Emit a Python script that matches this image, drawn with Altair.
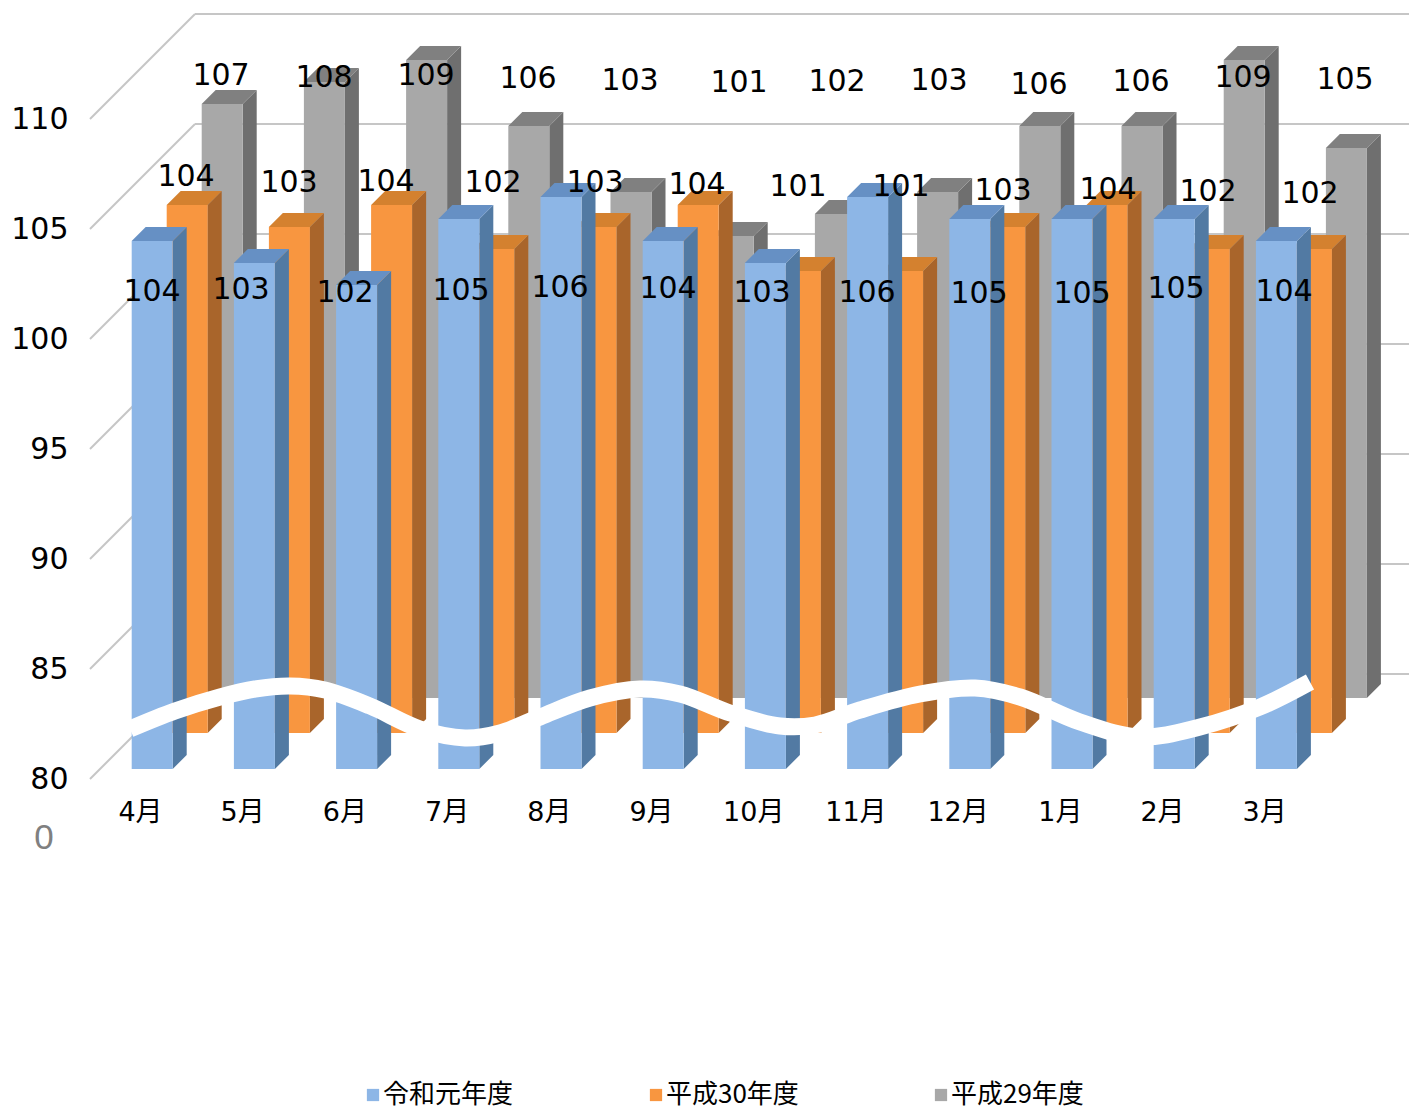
import json
import altair as alt
import pandas as pd

# ---- chart data ----
months = ["4月", "5月", "6月", "7月", "8月", "9月", "10月", "11月", "12月", "1月", "2月", "3月"]
series_names = ["令和元年度", "平成30年度", "平成29年度"]
reiwa1 = [104, 103, 102, 105, 106, 104, 103, 106, 105, 105, 105, 104]
heisei30 = [104, 103, 104, 102, 103, 104, 101, 101, 103, 104, 102, 102]
heisei29 = [107, 108, 109, 106, 103, 101, 102, 103, 106, 106, 109, 105]
axis_ticks = [80, 85, 90, 95, 100, 105, 110]

# ---- picture geometry (image pixels) ----
LEFT, TOP = 74, 8
W, H = 1335, 1102
PITCH = 102.2
UNIT = 22.0
Y80 = 779.0
MONTH0 = 140.0
BAR_W = 41.0
DX, DY = 14.0, 14.0
WALL_DX, WALL_DY = 105.0, 105.0
NUM_FONT = "DejaVu Sans ExtraLight, DejaVu Sans"
TXT_FONT = "DejaVu Sans ExtraLight, DejaVu Sans, Noto Sans CJK JP"


def sx(px):
    return (px - MONTH0) / PITCH


def vy(py):
    return 80 + (Y80 - py) / UNIT


x_scale = alt.Scale(domain=[sx(LEFT), sx(LEFT + W)], nice=False, zero=False)
y_scale = alt.Scale(domain=[vy(TOP + H), vy(TOP)], nice=False, zero=False)
color_scale = alt.Scale(domain=series_names, range=["#8DB6E6", "#F89640", "#A8A8A8"])

x_axis = alt.Axis(
    values=list(range(12)),
    labelExpr=json.dumps(months, ensure_ascii=False) + "[datum.value]",
    title=None, grid=False, ticks=False, domain=False, orient="bottom",
    offset=-(TOP + H - 799), labelPadding=0,
    labelFont=TXT_FONT, labelFontSize=27, labelColor="#000000",
    labelBaseline="top", labelAngle=0)
y_axis = alt.Axis(
    values=axis_ticks, title=None, grid=False, ticks=False, domain=False,
    labelPadding=6, labelFont=NUM_FONT, labelFontSize=30,
    labelColor="#000000", labelBaseline="middle")

# per series: values, left edge of first bar, baseline, side and top colours
series = [
    (series_names[2], heisei29, 201.7, 698.0, "#6F6F6F", "#808080"),
    (series_names[1], heisei30, 166.7, 733.0, "#A9652B", "#D4812F"),
    (series_names[0], reiwa1, 131.7, 769.0, "#527AA3", "#6690C4"),
]

# value-label positions, image pixels
label_pos = {
    series_names[0]: ([152, 241, 345, 461, 560, 668, 762, 867, 979, 1082, 1176, 1284],
                      [292, 290, 293, 291, 288, 289, 293, 293, 294, 294, 289, 292]),
    series_names[1]: ([186, 289, 386, 493, 595, 697, 798, 901, 1003, 1108, 1208, 1310],
                      [177, 183, 182, 183, 183, 185, 187, 187, 191, 190, 192, 194]),
    series_names[2]: ([221, 324, 426, 528, 630, 739, 837, 939, 1039, 1141, 1243, 1345],
                      [76, 78, 76, 79, 81, 83, 82, 81, 85, 82, 78, 80]),
}

# axis-break wave, image pixels
wave_px = [130, 175, 220, 255, 290, 325, 370, 420, 465, 500, 540, 590, 640, 680, 730, 780,
           815, 860, 920, 975, 1020, 1080, 1140, 1200, 1260, 1310]
wave_py = [729, 711, 697, 689, 686, 690, 706, 729, 738, 733, 717, 698, 689, 694, 713, 726,
           725, 710, 694, 688, 697, 722, 737, 727, 707, 682]

X = alt.X("x:Q", scale=x_scale, axis=x_axis)
Y = alt.Y("y:Q", scale=y_scale, axis=y_axis)

layers = []

# back wall and left wall gridlines
walls = pd.DataFrame({
    "v": axis_ticks,
    "x": [sx(90)] * 7,
    "xb": [sx(90 + WALL_DX)] * 7,
    "xe": [sx(LEFT + W)] * 7,
})
walls["y"] = walls["v"]
walls["yb"] = walls["v"] + WALL_DY / UNIT
grid = dict(color="#C6C6C6", strokeWidth=2)
layers.append(alt.Chart(walls).mark_rule(**grid).encode(
    x=alt.X("xb:Q", scale=x_scale, axis=x_axis),
    x2="xe:Q",
    y=alt.Y("yb:Q", scale=y_scale, axis=y_axis),
))
layers.append(alt.Chart(walls).mark_rule(**grid).encode(
    x=X, x2="xb:Q", y=Y, y2="yb:Q",
))

# bars, back series first
for name, values, x0, base_py, side_col, top_col in series:
    shift = (Y80 - base_py) / UNIT
    front, side, top = [], [], []
    for i, (m, v) in enumerate(zip(months, values)):
        l = x0 + PITCH * i
        r = l + BAR_W
        t = v + shift
        b = 80 + shift
        d = DY / UNIT
        front.append(dict(month=m, series=name, value=v, x=sx(l), x2=sx(r), y=t, y2=b))
        side.append(dict(month=m, x=sx(r), y=t, y2=b))
        side.append(dict(month=m, x=sx(r + DX), y=t + d, y2=b + d))
        top.append(dict(month=m, x=sx(l), y=t, y2=t))
        top.append(dict(month=m, x=sx(l + DX), y=t + d, y2=t))
        top.append(dict(month=m, x=sx(r), y=t + d, y2=t))
        top.append(dict(month=m, x=sx(r + DX), y=t + d, y2=t + d))
    layers.append(alt.Chart(pd.DataFrame(side)).mark_area(color=side_col, orient="vertical", opacity=1).encode(
        x=X, y=Y, y2="y2:Q", detail="month:N"))
    layers.append(alt.Chart(pd.DataFrame(top)).mark_area(color=top_col, orient="vertical", opacity=1).encode(
        x=X, y=Y, y2="y2:Q", detail="month:N"))
    layers.append(alt.Chart(pd.DataFrame(front)).mark_rect().encode(
        x=X, x2="x2:Q", y=Y, y2="y2:Q",
        color=alt.Color("series:N", scale=color_scale, legend=alt.Legend(
            title=None, orient="none", direction="horizontal", columns=3,
            legendX=366 - LEFT - 6, legendY=1082 - TOP,
            symbolType="square", symbolSize=150, symbolStrokeWidth=0,
            labelFont="Noto Sans CJK JP", labelFontSize=26,
            labelColor="#000000", labelLimit=300, columnPadding=129,
            symbolOffset=0, labelOffset={"expr": "-3"}, padding=0)),
    ))

# axis-break wave
wave = pd.DataFrame({"x": [sx(p) for p in wave_px], "y": [vy(p) for p in wave_py]})
layers.append(alt.Chart(wave).mark_line(
    color="#FFFFFF", strokeWidth=17, interpolate="catmull-rom", strokeCap="butt"
).encode(x=X, y=Y, order="x:Q"))

# value labels
rows = []
for name, values, *_ in series:
    xs, ys = label_pos[name]
    for v, px, py in zip(values, xs, ys):
        rows.append(dict(x=sx(px), y=vy(py), text=str(v)))
layers.append(alt.Chart(pd.DataFrame(rows)).mark_text(
    font=NUM_FONT, fontSize=30, color="#000000", align="center", baseline="middle"
).encode(x=X, y=Y, text="text:N"))

# stray zero below the axis
zero = pd.DataFrame({"x": [sx(44)], "y": [vy(838)], "text": ["0"]})
layers.append(alt.Chart(zero).mark_text(
    font="Liberation Sans", fontSize=35, color="#808080", align="center", baseline="middle", clip=False
).encode(x=X, y=Y, text="text:N"))

chart = alt.layer(*layers).properties(
    width=W, height=H,
    autosize=alt.AutoSizeParams(type="none"),
    padding={"left": LEFT - 8, "top": 0, "right": 0, "bottom": 0},
    background="#FFFFFF",
).configure_view(stroke=None)

chart.save("out.html", embed_options={"renderer": "svg", "actions": False})
